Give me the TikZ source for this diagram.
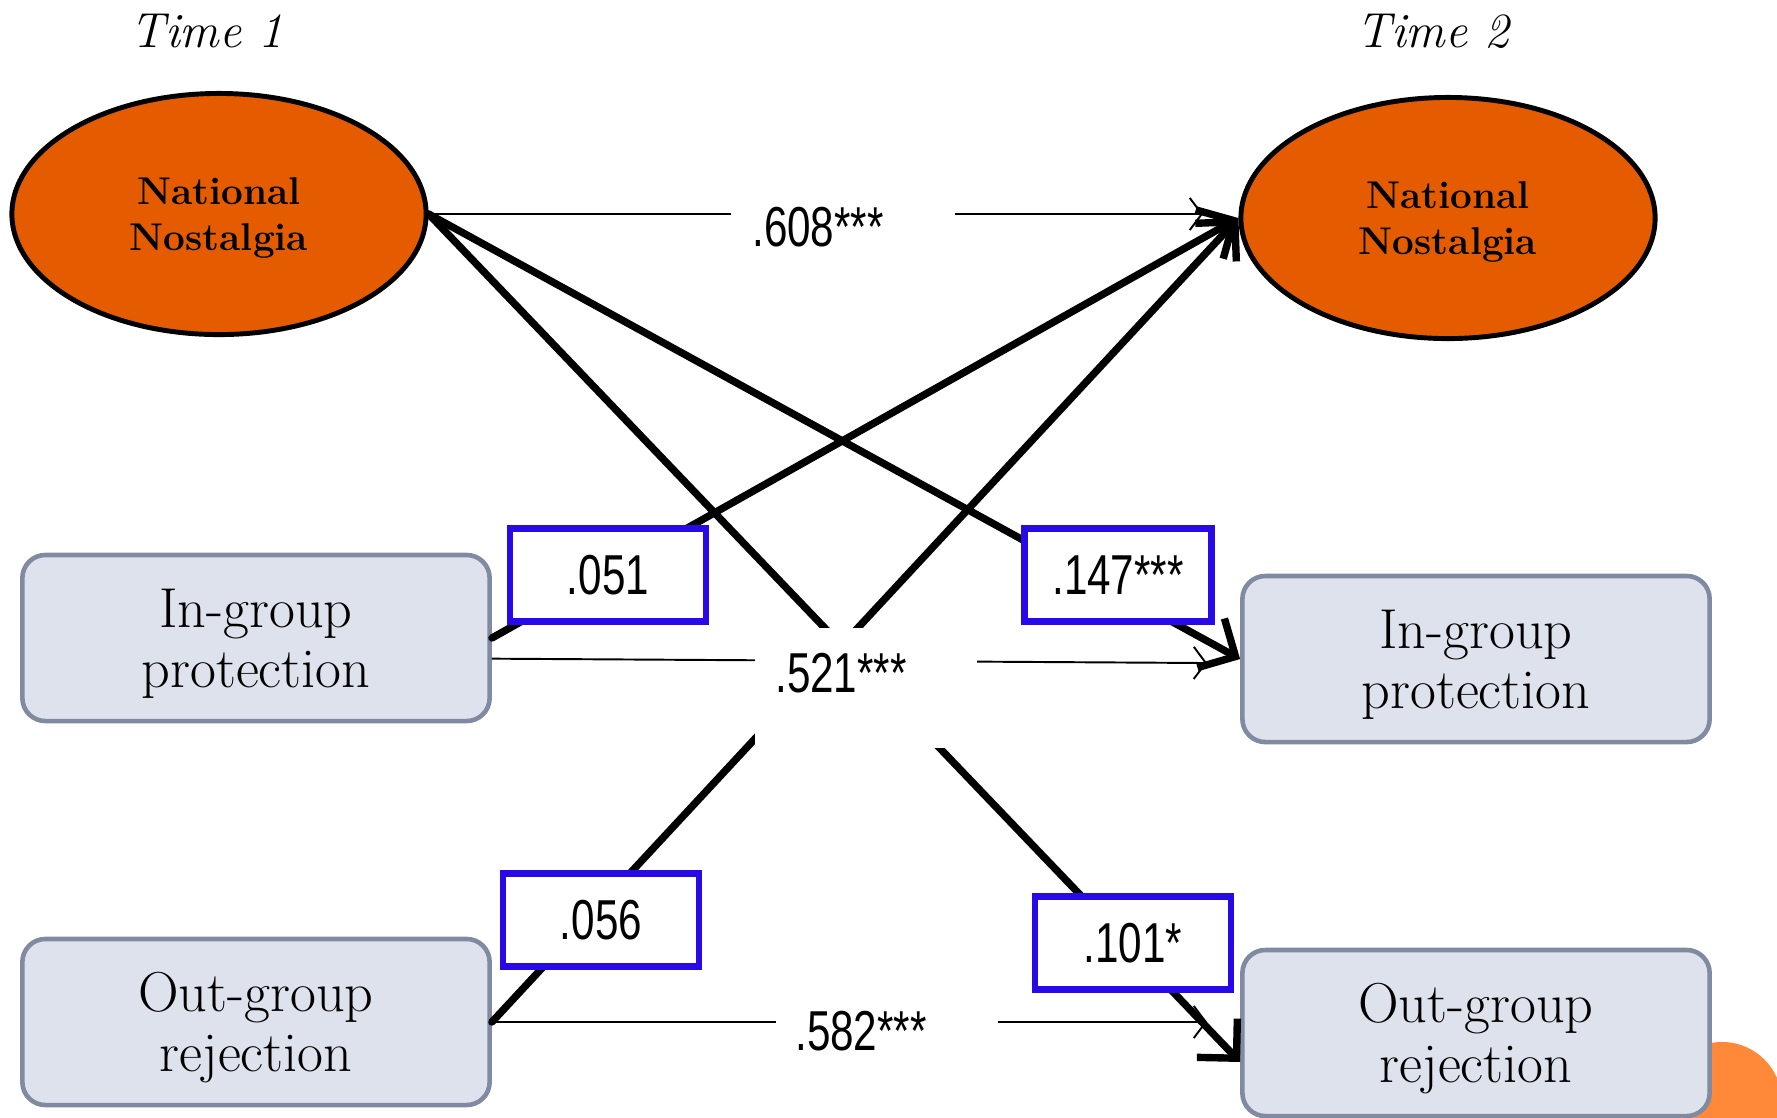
\documentclass[tikz,border=0pt]{standalone}
\usepackage{fontspec}
\usepackage{tikz}
\usetikzlibrary{shapes.geometric,arrows.meta}
\newfontfamily\numfont[FakeStretch=0.75]{Liberation Sans}
\definecolor{nostorange}{RGB}{229,92,0}
\definecolor{boxfill}{RGB}{222,226,236}
\definecolor{boxline}{RGB}{128,138,160}
\definecolor{coefblue}{RGB}{40,10,232}
\definecolor{blob}{RGB}{255,137,56}

\begin{document}
\begin{tikzpicture}[x=0.01cm, y=-0.01cm,
  nost/.style={ellipse, draw, line width=1.4pt, fill=nostorange, minimum width=4.14cm, minimum height=2.41cm, text depth=0pt, align=center, font=\fontsize{11}{13.2}\selectfont\bfseries},
  varbox/.style={rectangle, rounded corners=0.23cm, draw=boxline, line width=1.3pt, fill=boxfill, minimum width=4.67cm, minimum height=1.66cm, text depth=0pt, align=center, font=\fontsize{16}{17}\selectfont},
  coef/.style={rectangle, draw=coefblue, line width=1.8pt, fill=white, minimum width=1.96cm, minimum height=0.93cm, inner sep=0pt, font=\numfont\fontsize{16}{18}\selectfont},
  gap/.style={rectangle, fill=white, inner sep=0pt},
  stat/.style={inner sep=0pt, font=\numfont\fontsize{16}{18}\selectfont},
  thickpath/.style={line width=2.1pt, line cap=round, -{Straight Barb[length=2.8mm,width=5.6mm]}},
  thinpath/.style={line width=0.55pt, -{Straight Barb[length=1.2mm,width=3.2mm]}},
  timelabel/.style={font=\fontsize{14}{16}\selectfont\itshape}]
\useasboundingbox (0,0) rectangle (1777,1117);
\fill[blob] (1722,1102) circle (0.6cm);

\node[timelabel] (time1) at (207,31) {Time 1};
\node[timelabel] (time2) at (1433,31) {Time 2};

\node[nost] (nn1) at (219,214) {National\\Nostalgia};
\node[nost] (nn2) at (1448,218) {National\\Nostalgia};
\node[varbox] (in1) at (256,638) {In-group\\protection};
\node[varbox] (in2) at (1476,659) {In-group\\protection};
\node[varbox] (out1) at (256,1022) {Out-group\\rejection};
\node[varbox] (out2) at (1476,1033) {Out-group\\rejection};

\coordinate (e608) at (1203,214);
\coordinate (e521) at (1207,663);
\coordinate (e582) at (1207,1022);

\draw[thickpath] (nn1.east) -- (in2.west);
\draw[thickpath] (nn1.east) -- (out2.187);
\draw[thickpath] (in1.east) -- (nn2.west);
\draw[thickpath] (out1.east) -- (nn2.west);

\draw[thinpath] (nn1.east) -- (e608);
\draw[thinpath] (in1.-5) -- (e521);
\draw[thinpath] (out1.east) -- (e582);

\node[gap, minimum width=2.23cm, minimum height=0.4cm] (gap608) at (843,214) {};
\node[gap, minimum width=2.22cm, minimum height=1.19cm] (gap521) at (866,688) {};
\node[gap, minimum width=2.21cm, minimum height=0.4cm] (gap582) at (887,1022) {};
\node[stat] (t608) at (818,227) {.608***};
\node[stat] (t521) at (841,673) {.521***};
\node[stat] (t582) at (861,1031) {.582***};

\node[coef] (c051) at (608,575) {.051};
\node[coef, minimum width=1.87cm] (c147) at (1118,575) {.147***};
\node[coef] (c056) at (601,920) {.056};
\node[coef] (c101) at (1133,943) {.101*};
\end{tikzpicture}
\end{document}
